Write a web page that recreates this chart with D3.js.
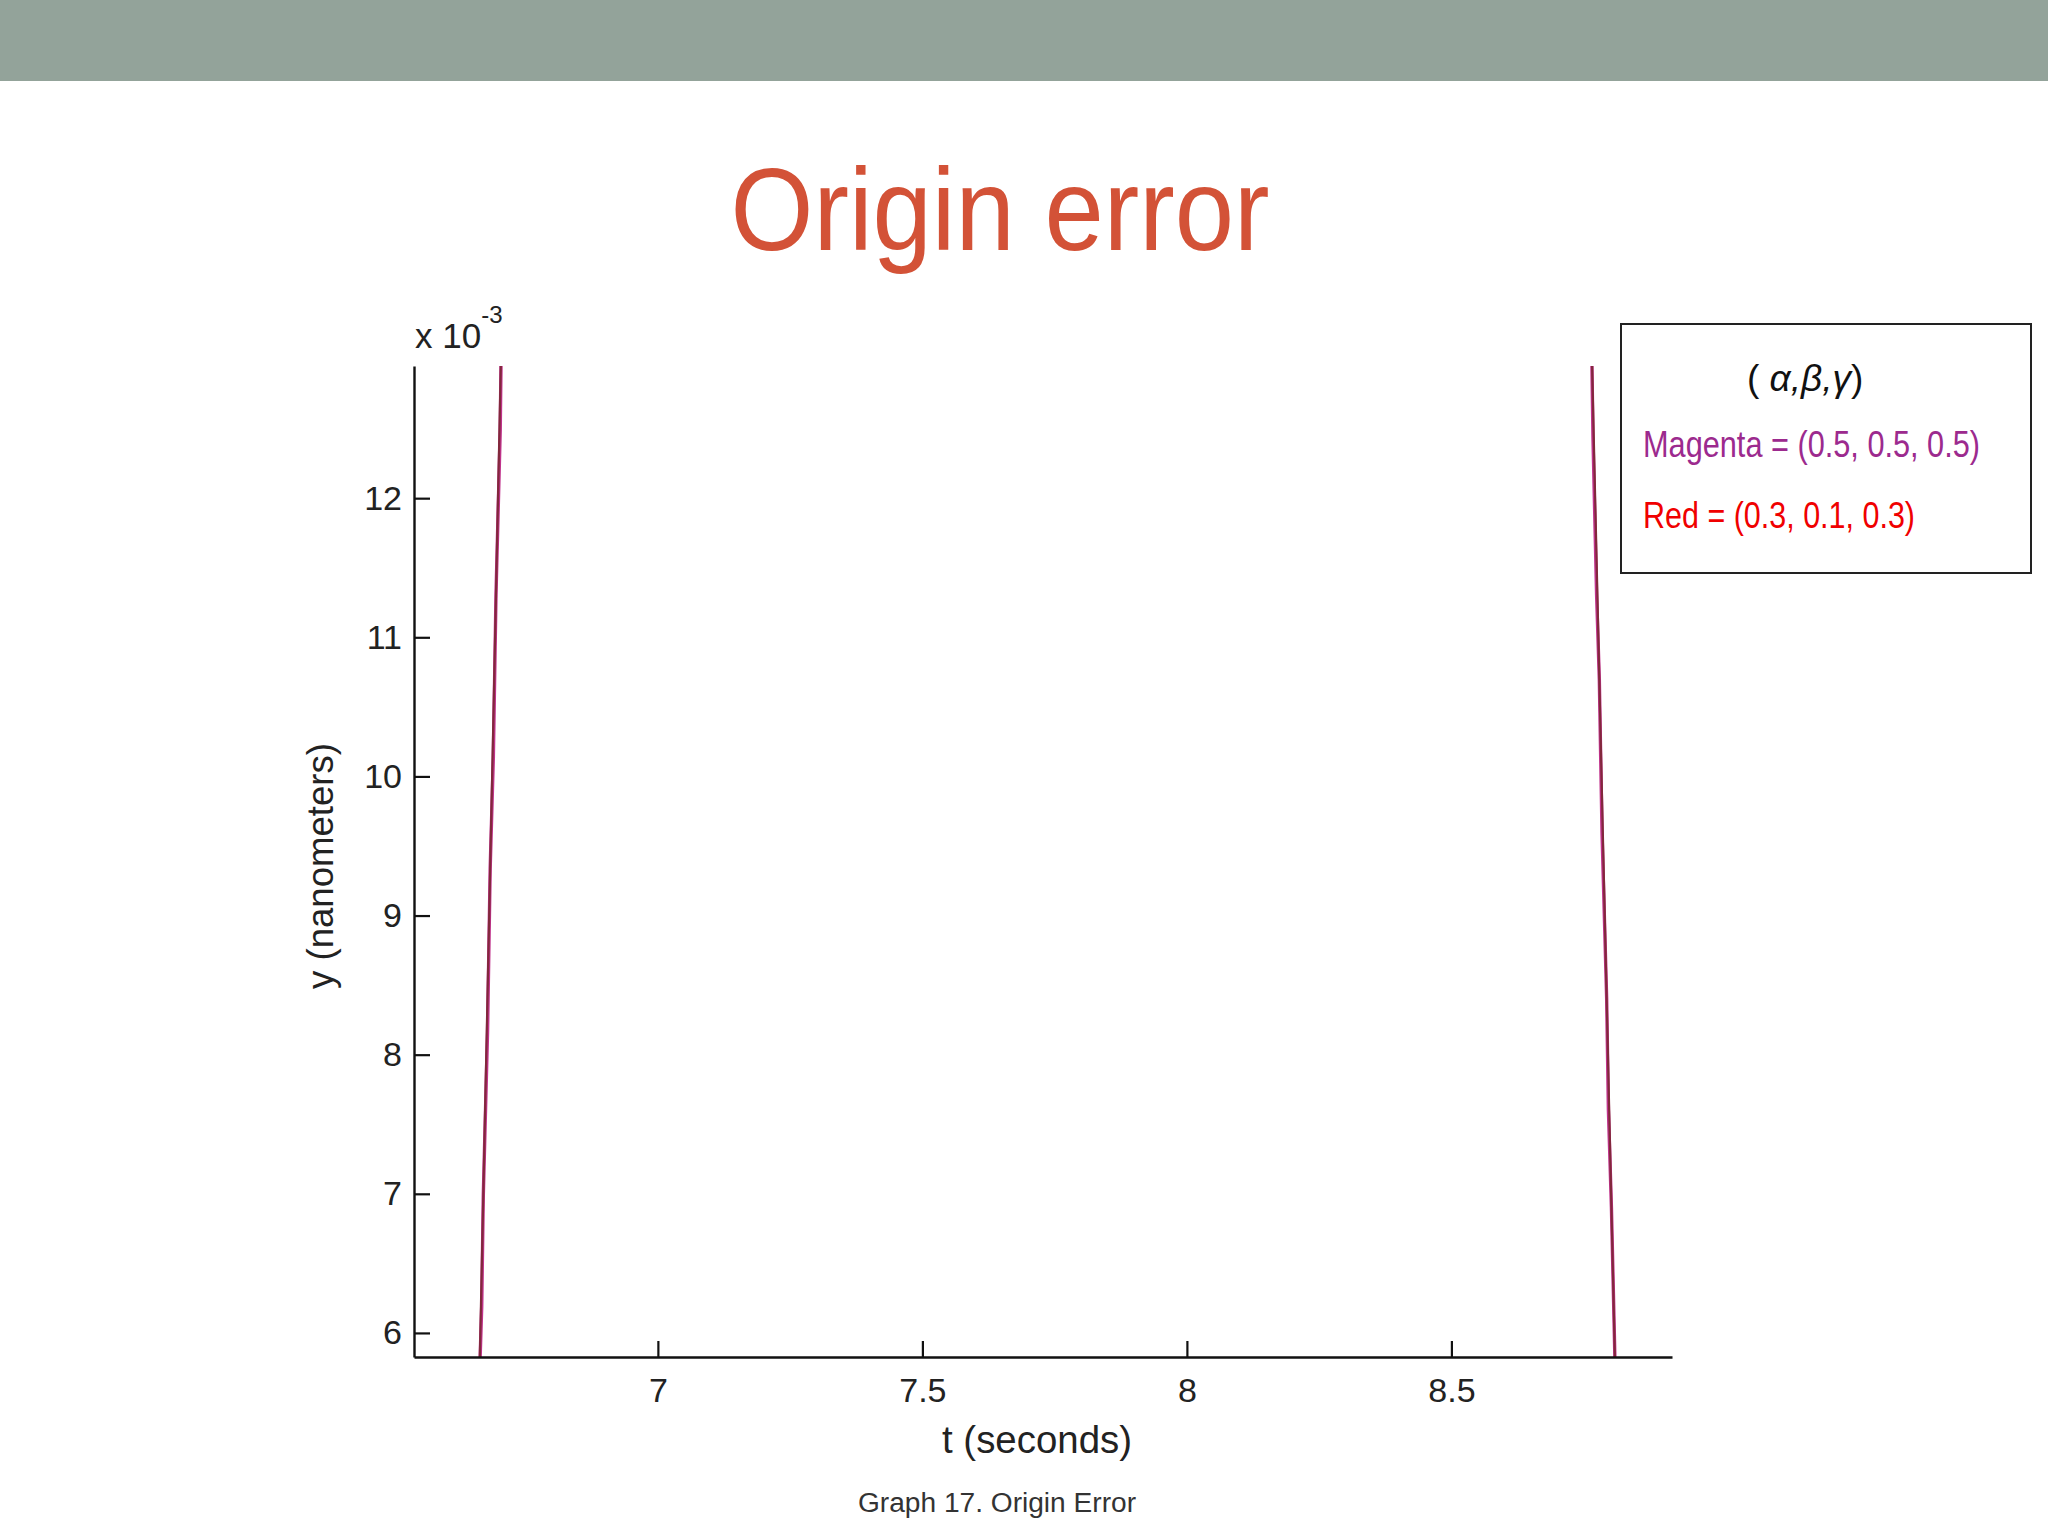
<!DOCTYPE html>
<html>
<head>
<meta charset="utf-8">
<script src="https://cdn.jsdelivr.net/npm/d3@7"></script>
<style>
  body { margin: 0; background: #fff; }
  text { font-family: "Liberation Sans", Arial, sans-serif; }
</style>
</head>
<body>
<svg id="chart"></svg>
<script>
// y values (x 10^-3 nm) where the traces were read
const leftY  = [5.6, 6.19, 6.99, 8.16, 9.34, 10.14, 11.31, 12.49, 13.1]
const rightY = [13.1, 12.44, 11.3, 10.7, 9.6, 8.4, 7.6, 6.9, 5.6]

// time values (seconds) for each trace
const redLeftT      = [6.6622, 6.6655, 6.6700, 6.6765, 6.6830, 6.6875, 6.6940, 6.7005, 6.7039]
const magentaLeftT  = [6.6622, 6.6670, 6.6700, 6.6780, 6.6830, 6.6890, 6.6940, 6.7020, 6.7039]
const redRightT     = [8.7651, 8.7691, 8.7760, 8.7796, 8.7862, 8.7935, 8.7983, 8.8025, 8.8104]
const magentaRightT = [8.7651, 8.7676, 8.7745, 8.7796, 8.7847, 8.7935, 8.7968, 8.8025, 8.8104]

const xTicks = [7, 7.5, 8, 8.5]
const yTicks = [6, 7, 8, 9, 10, 11, 12]
const legendLines = ['Magenta = (0.5, 0.5, 0.5)', 'Red = (0.3, 0.1, 0.3)']
const legendColors = ['#9c2a8e', '#f00000']

const W = 2048, H = 1536

const svg = d3.select('#chart')
    .attr('width', W)
    .attr('height', H)

svg.append('rect').attr('width', W).attr('height', H).attr('fill', '#fff')

// top band
svg.append('rect')
    .attr('x', 0).attr('y', 0)
    .attr('width', W).attr('height', 81)
    .attr('fill', '#93a39a')

// title
svg.append('text')
    .attr('x', 1000).attr('y', 250)
    .attr('text-anchor', 'middle')
    .attr('font-size', 116)
    .attr('textLength', 539)
    .attr('lengthAdjust', 'spacingAndGlyphs')
    .attr('fill', '#d35237')
    .text('Origin error')

// scales
const x = d3.scaleLinear().domain([6.539, 8.917]).range([414, 1672])
const y = d3.scaleLinear().domain([5.827, 12.95]).range([1357, 366])

// clip the traces to the plot area
svg.append('clipPath').attr('id', 'plotClip')
    .append('rect')
        .attr('x', 414).attr('y', 366)
        .attr('width', 1672 - 414).attr('height', 1357 - 366)

const line = d3.line().x(d => x(d[0])).y(d => y(d[1]))

const traces = [
    { t: magentaLeftT,  v: leftY,  color: '#c0338c', width: 3.4 },
    { t: magentaRightT, v: rightY, color: '#c0338c', width: 3.4 },
    { t: redLeftT,      v: leftY,  color: '#82283c', width: 2.2 },
    { t: redRightT,     v: rightY, color: '#82283c', width: 2.2 }
]

svg.append('g')
    .attr('clip-path', 'url(#plotClip)')
    .selectAll('path')
    .data(traces)
    .join('path')
        .attr('d', d => line(d.t.map((t, i) => [t, d.v[i]])))
        .attr('fill', 'none')
        .attr('stroke', d => d.color)
        .attr('stroke-width', d => d.width)

// axes
const xAxis = svg.append('g')
    .attr('transform', 'translate(0,1357)')
    .call(d3.axisBottom(x).tickValues(xTicks).tickFormat(d3.format('')).tickSizeInner(-16).tickSizeOuter(0).tickPadding(21))

const yAxis = svg.append('g')
    .attr('transform', 'translate(414,0)')
    .call(d3.axisLeft(y).tickValues(yTicks).tickFormat(d3.format('')).tickSizeInner(-16).tickSizeOuter(0).tickPadding(12))

;[xAxis, yAxis].forEach(a => {
    a.select('.domain').attr('stroke', '#111').attr('stroke-width', 2.4)
    a.selectAll('.tick line').attr('stroke', '#111').attr('stroke-width', 2.2)
    a.selectAll('.tick text')
        .attr('font-family', '"Liberation Sans", Arial, sans-serif')
        .attr('font-size', 34)
        .attr('fill', '#222')
})

// exponent label
const expo = svg.append('text')
    .attr('x', 415).attr('y', 348)
    .attr('font-size', 35)
    .attr('fill', '#222')
expo.append('tspan').text('x 10')
expo.append('tspan').attr('dy', -25).attr('font-size', 24).text('-3')

// axis labels
svg.append('text')
    .attr('transform', 'translate(333,866) rotate(-90)')
    .attr('text-anchor', 'middle')
    .attr('font-size', 36)
    .attr('textLength', 246)
    .attr('lengthAdjust', 'spacingAndGlyphs')
    .attr('fill', '#222')
    .text('y (nanometers)')

svg.append('text')
    .attr('x', 1037).attr('y', 1453)
    .attr('text-anchor', 'middle')
    .attr('font-size', 38)
    .attr('textLength', 190)
    .attr('lengthAdjust', 'spacingAndGlyphs')
    .attr('fill', '#222')
    .text('t (seconds)')

// caption
svg.append('text')
    .attr('x', 997).attr('y', 1512)
    .attr('text-anchor', 'middle')
    .attr('font-size', 27)
    .attr('textLength', 278)
    .attr('lengthAdjust', 'spacingAndGlyphs')
    .attr('fill', '#333')
    .text('Graph 17. Origin Error')

// legend box
const legend = svg.append('g')
legend.append('rect')
    .attr('x', 1621).attr('y', 324)
    .attr('width', 410).attr('height', 249)
    .attr('fill', '#fff')
    .attr('stroke', '#222')
    .attr('stroke-width', 2)

const greek = legend.append('text')
    .attr('x', 1747).attr('y', 391)
    .attr('font-family', '"Liberation Serif", "DejaVu Serif", serif')
    .attr('font-size', 37)
    .attr('fill', '#111')
greek.append('tspan').text('( ')
greek.append('tspan').attr('font-style', 'italic').text('α,β,γ')
greek.append('tspan').text(')')

legend.selectAll('text.entry')
    .data(legendLines)
    .join('text')
        .attr('class', 'entry')
        .attr('x', 1643)
        .attr('y', (d, i) => 457 + i * 71)
        .attr('font-size', 36)
        .attr('textLength', (d, i) => i === 0 ? 337 : 272)
        .attr('lengthAdjust', 'spacingAndGlyphs')
        .attr('fill', (d, i) => legendColors[i])
        .text(d => d)
</script>
</body>
</html>
